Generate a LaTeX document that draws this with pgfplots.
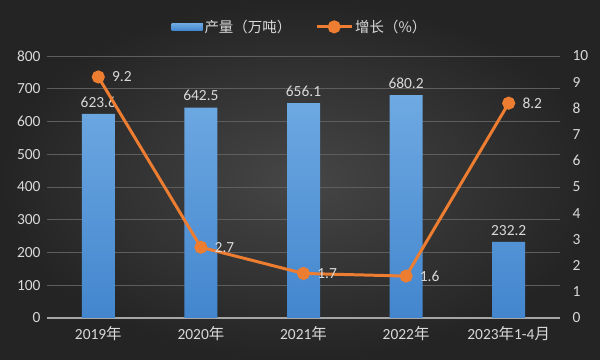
\documentclass[border=0pt]{standalone}
\usepackage{pgfplots}
\pgfplotsset{compat=1.18}
\usepackage{fontspec}
\setmainfont{Carlito}
\newfontfamily\cjk{Noto Sans CJK SC}
\definecolor{txt}{HTML}{D9D9D9}
\definecolor{gridc}{HTML}{5E5E5E}
\definecolor{barc}{HTML}{5B9BD5}
\definecolor{bartop}{HTML}{6EA9E2}
\definecolor{barbot}{HTML}{4386CE}
\definecolor{linec}{HTML}{ED7D31}
\definecolor{bgin}{HTML}{464646}
\definecolor{bgout}{HTML}{242424}
\begin{document}
\begin{tikzpicture}
\shade[inner color=bgin, outer color=bgout] (0,0) rectangle (600bp,360bp);
\begin{axis}[
  at={(47bp,42bp)}, anchor=south west,
  scale only axis, width=513bp, height=262bp,
  xmin=-0.5, xmax=4.5, ymin=0, ymax=800,
  ytick={0,100,...,800},
  xtick={0,1,2,3,4},
  xticklabels={2019{\cjk 年},2020{\cjk 年},2021{\cjk 年},2022{\cjk 年},2023{\cjk 年}1-4{\cjk 月}},
  axis y line*=left, axis x line*=bottom,
  y axis line style={draw=none},
  x axis line style={draw=black!35, line width=1.3pt},
  major tick length=0pt,
  ymajorgrids, grid style={gridc, line width=0.7pt},
  tick label style={txt, font=\fontsize{15.5}{18}\selectfont},
  /pgf/number format/assume math mode=true,
  yticklabel style={xshift=-3bp},
  xticklabel style={yshift=-5bp},
  legend columns=2,
  legend style={draw=none, fill=none, at={(0.493,1)}, anchor=south, yshift=18bp,
    text=txt, font=\cjk\fontsize{14.5}{17}\selectfont,
    /tikz/every even column/.append style={column sep=22bp}},
  clip=false,
]
\addplot[ybar, bar width=33bp, draw=none, shade, top color=bartop, bottom color=barbot,
  nodes near coords, nodes near coords style={txt, font=\fontsize{15.5}{18}\selectfont, yshift=3bp},
  legend image code/.code={\fill[barc] (0bp,-3.5bp) rectangle (31bp,3.5bp);}]
  coordinates {(0,623.6) (1,642.5) (2,656.1) (3,680.2) (4,232.2)};
\addlegendentry{产量（万吨）}
\addlegendimage{linec, line width=3pt, mark=*, mark size=4bp,
  legend image code/.code={\draw[linec, line width=3pt] (0bp,0bp)--(35bp,0bp); \fill[linec] (17.5bp,0bp) circle (5bp);}}
\addlegendentry{增长（\%）}
\end{axis}
\begin{axis}[
  at={(47bp,42bp)}, anchor=south west,
  scale only axis, width=513bp, height=262bp,
  xmin=-0.5, xmax=4.5, ymin=0, ymax=10,
  ytick={0,1,...,10},
  axis y line*=right, axis x line=none,
  y axis line style={draw=none},
  major tick length=0pt,
  tick label style={txt, font=\fontsize{15.5}{18}\selectfont},
  /pgf/number format/assume math mode=true,
  yticklabel style={xshift=9bp},
  clip=false,
]
\addplot[linec, line width=3pt, mark=*, mark size=5bp,
  mark options={fill=linec, draw=linec},
  nodes near coords, nodes near coords style={txt, font=\fontsize{15.5}{18}\selectfont, anchor=west, xshift=9bp},
  point meta=explicit symbolic]
  coordinates {(0,9.2)[9.2] (1,2.7)[2.7] (2,1.7)[1.7] (3,1.6)[1.6] (4,8.2)[8.2]};
\end{axis}
\end{tikzpicture}
\end{document}
